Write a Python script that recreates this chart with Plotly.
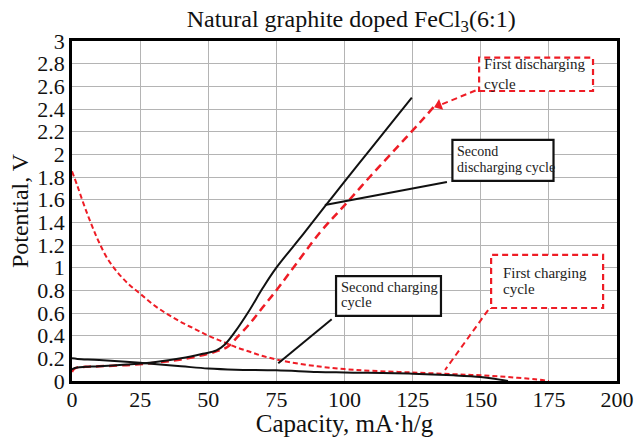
import plotly.graph_objects as go

# ---- data ----
disch1_x = [0, 0.5, 2, 5, 10, 20, 30, 40, 50, 54, 57, 60, 65, 70, 75, 80, 91, 100, 110, 120, 128, 132.8]
disch1_y = [0.08, 0.10, 0.12, 0.125, 0.13, 0.14, 0.16, 0.19, 0.24, 0.27, 0.30, 0.37, 0.50, 0.65, 0.80, 0.96, 1.31, 1.55, 1.82, 2.08, 2.29, 2.42]

disch2_x = [0, 0.5, 2, 5, 10, 20, 30, 40, 48, 53, 56, 60, 65, 70, 75, 85, 92.8, 100, 110, 118, 124.7]
disch2_y = [0.10, 0.11, 0.12, 0.125, 0.13, 0.145, 0.165, 0.20, 0.24, 0.27, 0.32, 0.44, 0.62, 0.82, 1.00, 1.30, 1.54, 1.76, 2.06, 2.30, 2.50]

charge1_x = [0, 2, 4, 6, 8, 10, 13, 17, 21, 25, 30, 35, 40, 45, 50, 55, 60, 65, 70, 75, 80, 90, 100, 110, 125, 140, 150, 160, 170, 175]
charge1_y = [1.85, 1.72, 1.58, 1.45, 1.33, 1.22, 1.08, 0.95, 0.85, 0.77, 0.67, 0.59, 0.52, 0.46, 0.40, 0.35, 0.30, 0.26, 0.22, 0.19, 0.165, 0.13, 0.105, 0.09, 0.075, 0.06, 0.05, 0.035, 0.015, 0.0]

charge2_x = [0, 2, 10, 25, 40, 50, 60, 75, 90, 100, 125, 140, 150, 155, 160]
charge2_y = [0.20, 0.195, 0.185, 0.16, 0.13, 0.11, 0.10, 0.095, 0.08, 0.075, 0.065, 0.05, 0.035, 0.02, 0.0]

x_ticks = [0, 25, 50, 75, 100, 125, 150, 175, 200]
y_ticks = [0, 0.2, 0.4, 0.6, 0.8, 1, 1.2, 1.4, 1.6, 1.8, 2, 2.2, 2.4, 2.6, 2.8, 3]
y_ticktext = ["0", "0.2", "0.4", "0.6", "0.8", "1", "1.2", "1.4", "1.6", "1.8",
              "2", "2.2", "2.4", "2.6", "2.8", "3"]

RED = "#ee1c25"
BLACK = "#111111"
FONT = "Liberation Serif"

fig = go.Figure()
fig.add_trace(go.Scatter(x=charge1_x, y=charge1_y, mode="lines",
                         line=dict(color=RED, width=2, dash="5px,3px", shape="spline"),
                         name="First charging cycle"))
fig.add_trace(go.Scatter(x=disch1_x, y=disch1_y, mode="lines",
                         line=dict(color=RED, width=2.5, dash="8px,5px", shape="spline"),
                         name="First discharging cycle"))
fig.add_trace(go.Scatter(x=charge2_x, y=charge2_y, mode="lines",
                         line=dict(color=BLACK, width=2, shape="spline"),
                         name="Second charging cycle"))
fig.add_trace(go.Scatter(x=disch2_x, y=disch2_y, mode="lines",
                         line=dict(color=BLACK, width=2, shape="spline"),
                         name="Second discharging cycle"))

shapes = []
annotations = []

def box(x0, x1, y0, y1, color, dash):
    shapes.append(dict(type="rect", xref="x", yref="y", x0=x0, x1=x1, y0=y0, y1=y1,
                       line=dict(color=color, width=2.2, dash=dash),
                       fillcolor="white", layer="above"))

def seg(x0, y0, x1, y1, color, dash, width=2):
    shapes.append(dict(type="line", xref="x", yref="y", x0=x0, y0=y0, x1=x1, y1=y1,
                       line=dict(color=color, width=width, dash=dash), layer="above"))

def label(x, y, text, size):
    annotations.append(dict(x=x, y=y, xref="x", yref="y", text=text, showarrow=False,
                            xanchor="left", yanchor="middle", align="left",
                            font=dict(family=FONT, size=size, color="#222")))

# First discharging cycle
box(149.4, 191.2, 2.559, 2.853, RED, "6px,4px")
label(150.3, 2.712, "First discharging<br>cycle", 15)
seg(148.1, 2.563, 135.5, 2.44, RED, "6px,4px")
# arrowhead drawn as a rotated triangle marker at the tip
fig.add_trace(go.Scatter(x=[134.6], y=[2.432], mode="markers", hoverinfo="skip",
                         marker=dict(symbol="triangle-up", size=10, angle=249, color=RED,
                                     line=dict(width=0)), showlegend=False))

# Second discharging cycle
box(139.6, 176.7, 1.765, 2.128, BLACK, "solid")
label(140.6, 2.026, "Second", 14)
label(140.6, 1.880, "discharging cycle", 14)
seg(137.6, 1.756, 92.8, 1.553, BLACK, "solid")

# Second charging cycle
box(96.9, 135.4, 0.574, 0.926, BLACK, "solid")
label(98.0, 0.832, "Second charging", 14.5)
label(98.0, 0.701, "cycle", 14.5)
seg(95.3, 0.544, 75.7, 0.156, BLACK, "solid")

# First charging cycle
box(153.8, 194.9, 0.644, 1.112, RED, "6px,4px")
label(157.6, 0.949, "First charging", 15)
label(157.6, 0.812, "cycle", 15)
seg(152.7, 0.626, 136.9, 0.097, RED, "6px,4px")

fig.update_layout(
    width=635, height=437, autosize=False,
    margin=dict(l=72, r=18, t=41, b=56),
    paper_bgcolor="white", plot_bgcolor="white",
    showlegend=False,
    font=dict(family=FONT, color="#111", size=20),
    title=dict(text="Natural graphite doped FeCl<sub>3</sub>(6:1)",
               x=0.553, xanchor="center", y=0.958, yanchor="middle",
               font=dict(family=FONT, size=24, color="#111")),
    shapes=shapes, annotations=annotations,
)
fig.update_xaxes(range=[0, 200], tickvals=x_ticks, showgrid=True, gridcolor="#b4b4b4",
                 gridwidth=1, showline=True, mirror=True, linecolor="black", linewidth=2.5,
                 ticks="", zeroline=False, automargin=False, ticklabelstandoff=-3,
                 tickfont=dict(family=FONT, size=22, color="#111"),
                 title=dict(text="Capacity, mA·h/g", font=dict(family=FONT, size=25), standoff=2))
fig.update_yaxes(range=[0, 3], tickvals=y_ticks, ticktext=y_ticktext, showgrid=True,
                 gridcolor="#b4b4b4", gridwidth=1, showline=True, mirror=True,
                 linecolor="black", linewidth=2.5, ticks="", zeroline=False, automargin=False,
                 tickfont=dict(family=FONT, size=22, color="#111"),
                 title=dict(text="Potential, V", font=dict(family=FONT, size=24), standoff=2))

fig.write_html("out.html")
